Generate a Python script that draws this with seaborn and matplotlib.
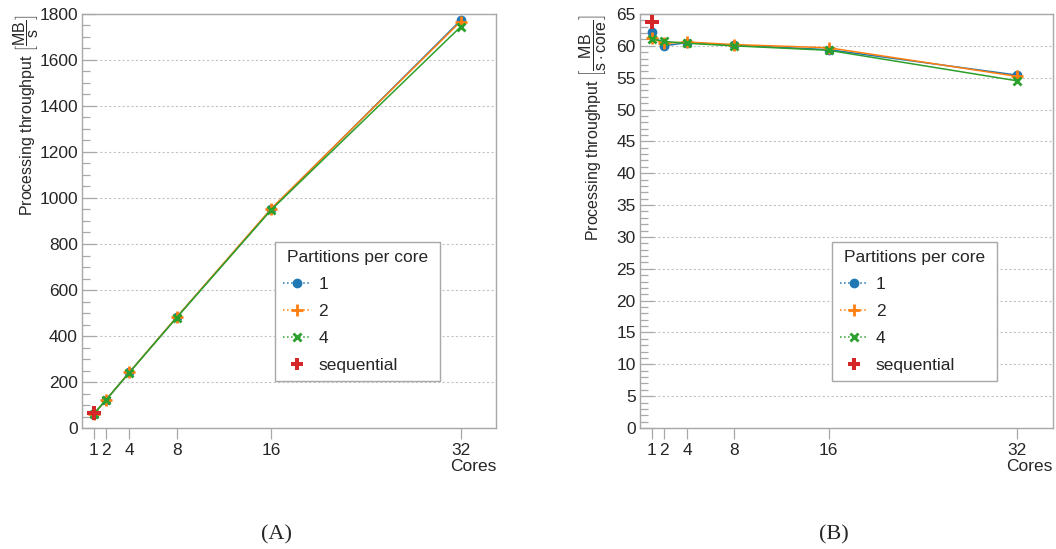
import numpy as np
import pandas as pd
import matplotlib
matplotlib.use("Agg")
import matplotlib.pyplot as plt
from matplotlib.lines import Line2D
from matplotlib.ticker import MultipleLocator
import seaborn as sns

# Data
cores = [1, 2, 4, 8, 16, 32]
partitions = ["1", "2", "4"]

# (A) total throughput in MB/s
total_1 = [62, 120, 242, 481, 951, 1772]
total_2 = [61, 121, 242, 482, 954, 1767]
total_4 = [61, 121, 241, 480, 949, 1744]
seq_total = [64]

# (B) throughput per core in MB/(s*core)
percore_1 = [62.2, 60.0, 60.5, 60.1, 59.4, 55.4]
percore_2 = [61.2, 60.4, 60.6, 60.2, 59.7, 55.2]
percore_4 = [61.1, 60.7, 60.4, 60.0, 59.3, 54.5]
seq_percore = [63.7]
seq_cores = [1]

colors = {"1": "#1f77b4", "2": "#ff7f0e", "4": "#2ca02c", "seq": "#d62728"}
markers = {"1": "o", "2": "+", "4": "x"}
marker_kw = {
    "1": dict(markersize=6, markeredgewidth=1),
    "2": dict(markersize=8, markeredgewidth=2.0),
    "4": dict(markersize=6, markeredgewidth=2.0),
}

sns.set_theme(style="ticks")
plt.rcParams["font.family"] = ["Liberation Sans", "DejaVu Sans"]
plt.rcParams["mathtext.fontset"] = "custom"
plt.rcParams["mathtext.rm"] = "Liberation Sans"
plt.rcParams["mathtext.it"] = "Liberation Sans:italic"

frame_color = "#a8a8a8"


def draw_panel(ax, series, seq_vals, ymax, major, minor, ylabel, label_x):
    df = pd.DataFrame({
        "cores": cores * len(partitions),
        "value": sum(series, []),
        "partitions": np.repeat(partitions, len(cores)),
    })
    for p in partitions:
        sub = df[df["partitions"] == p]
        sns.lineplot(data=sub, x="cores", y="value", ax=ax, color=colors[p],
                     marker=markers[p], linewidth=1.1, markeredgecolor=colors[p],
                     zorder=3, **marker_kw[p])
    sns.scatterplot(x=seq_cores, y=seq_vals, ax=ax, color=colors["seq"], marker="P",
                    s=100, edgecolor=colors["seq"], linewidth=0, zorder=4)

    ax.set_xlim(0, 35)
    ax.set_ylim(0, ymax)
    ax.set_xticks(cores)
    ax.set_xticklabels([str(c) for c in cores])
    ax.yaxis.set_major_locator(MultipleLocator(major))
    ax.yaxis.set_minor_locator(MultipleLocator(minor))
    ax.tick_params(axis="y", which="major", direction="in", length=10, color=frame_color,
                   labelsize=12.5, pad=3, width=0.9)
    ax.tick_params(axis="y", which="minor", direction="in", length=6, color=frame_color,
                   width=0.9)
    ax.tick_params(axis="x", which="major", direction="out", length=8, color=frame_color,
                   labelsize=12.5, pad=3, width=0.9)
    ax.tick_params(axis="x", which="minor", bottom=False)
    ax.grid(axis="y", which="major", linestyle=(0, (2, 2)), color="#c4c4c4", linewidth=0.8)
    ax.set_axisbelow(True)
    for sp in ax.spines.values():
        sp.set_visible(True)
        sp.set_color(frame_color)
        sp.set_linewidth(1.0)

    ax.set_xlabel("Cores", fontsize=12.5, loc="right")
    ax.xaxis.set_label_coords(1.0, -0.075)
    ax.set_ylabel(ylabel, fontsize=11.5, loc="top")
    ax.yaxis.set_label_coords(label_x, 1.0)

    handles = [
        Line2D([], [], color=colors[p], marker=markers[p], linestyle=":", linewidth=1.1,
               markeredgecolor=colors[p], **marker_kw[p])
        for p in partitions
    ]
    handles.append(Line2D([], [], color=colors["seq"], marker="P", linestyle="none",
                          markersize=8.5, markeredgewidth=0))
    leg = ax.legend(handles, partitions + ["sequential"], title="Partitions per core",
                    loc="upper left", bbox_to_anchor=(0.466, 0.123, 0.399, 0.326),
                    mode="expand", borderaxespad=0, fontsize=12.5,
                    title_fontsize=12.5, frameon=True, fancybox=False, framealpha=1,
                    edgecolor=frame_color, handlelength=1.6, labelspacing=0.68,
                    borderpad=0.45, handletextpad=0.45)
    leg.get_frame().set_linewidth(1.0)


fig = plt.figure(figsize=(10.56, 5.49), dpi=100)
ax_a = fig.add_axes([0.0777, 0.2204, 0.392, 0.7541])
ax_b = fig.add_axes([0.606, 0.2204, 0.391, 0.7541])

draw_panel(ax_a, [total_1, total_2, total_4], seq_total, 1800, 200, 50,
           r"Processing throughput $\left[\dfrac{\mathrm{MB}}{\mathrm{s}}\right]$", -0.10)
draw_panel(ax_b, [percore_1, percore_2, percore_4], seq_percore, 65, 5, 1,
           r"Processing throughput $\left[\dfrac{\mathrm{MB}}{\mathrm{s}\cdot\mathrm{core}}\right]$",
           -0.075)

fig.text(0.262, 0.025, "(A)", ha="center", va="center", fontsize=16,
         family=["Liberation Serif", "DejaVu Serif"])
fig.text(0.790, 0.025, "(B)", ha="center", va="center", fontsize=16,
         family=["Liberation Serif", "DejaVu Serif"])

fig.savefig("out.png", dpi=100)
